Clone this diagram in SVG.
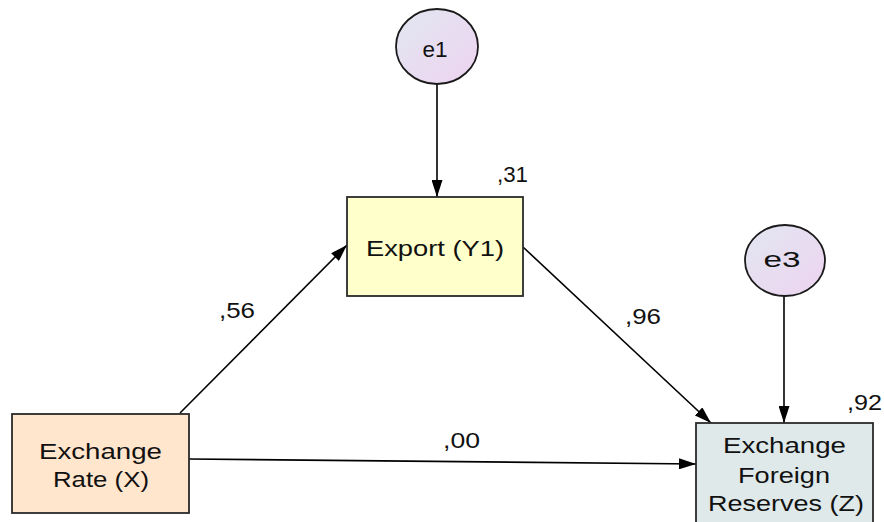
<svg xmlns="http://www.w3.org/2000/svg" width="884" height="522" viewBox="0 0 884 522">
<defs>
<linearGradient id="errGrad" x1="0" y1="0" x2="1" y2="1">
<stop offset="0" stop-color="#e1e7f1"/>
<stop offset="1" stop-color="#eed3f0"/>
</linearGradient>
<marker id="arrow" viewBox="0 0 17 11" refX="17" refY="5.5" markerWidth="17" markerHeight="11" markerUnits="userSpaceOnUse" orient="auto">
<path d="M0,0 L17,5.5 L0,11 Z" fill="#000"/>
</marker>
<style>
.box{stroke:#2a2a2a;stroke-width:1.8}
.err{fill:url(#errGrad);stroke:#1a1a1a;stroke-width:1.8}
.lbl{font-family:"Liberation Sans",Arial,sans-serif;font-size:22px;fill:#111}
.conn line{stroke:#000;stroke-width:1.6;marker-end:url(#arrow)}
</style>
</defs>
<rect width="884" height="522" fill="#fff"/>
<g id="connectors" class="conn">
<line x1="437" y1="84" x2="437" y2="197"/>
<line x1="784" y1="296" x2="784" y2="423"/>
<line x1="180" y1="413" x2="347" y2="245"/>
<line x1="523" y1="247" x2="711" y2="423"/>
<line x1="189" y1="459" x2="696" y2="464"/>
</g>
<g id="e1">
<ellipse class="err" cx="437" cy="46.5" rx="41" ry="37.5"/>
<text class="lbl" x="435" y="56.5" text-anchor="middle" font-size="21" textLength="25" lengthAdjust="spacingAndGlyphs">e1</text>
</g>
<g id="e3">
<ellipse class="err" cx="785" cy="260.5" rx="40" ry="35.5"/>
<text class="lbl" x="782" y="267" text-anchor="middle" font-size="24" textLength="37" lengthAdjust="spacingAndGlyphs">e3</text>
</g>
<g id="export">
<rect class="box" x="347" y="197" width="176" height="99" fill="#ffffcc"/>
<text class="lbl" x="435" y="256" text-anchor="middle" font-size="24" textLength="138" lengthAdjust="spacingAndGlyphs">Export (Y1)</text>
<text class="lbl" x="497" y="182" textLength="31" lengthAdjust="spacingAndGlyphs">,31</text>
</g>
<g id="exchange-rate">
<rect class="box" x="12" y="414" width="177" height="99" fill="#ffe6cc"/>
<text class="lbl" x="100.5" y="459" text-anchor="middle" font-size="24" textLength="123" lengthAdjust="spacingAndGlyphs">Exchange</text>
<text class="lbl" x="101" y="487" text-anchor="middle" font-size="24" textLength="96" lengthAdjust="spacingAndGlyphs">Rate (X)</text>
</g>
<g id="reserves">
<rect class="box" x="696" y="423" width="177" height="110" fill="#dfe9ea"/>
<text class="lbl" x="784.5" y="453" text-anchor="middle" font-size="23" textLength="123" lengthAdjust="spacingAndGlyphs">Exchange</text>
<text class="lbl" x="784" y="483" text-anchor="middle" font-size="23" textLength="92" lengthAdjust="spacingAndGlyphs">Foreign</text>
<text class="lbl" x="786" y="511" text-anchor="middle" font-size="23" textLength="156" lengthAdjust="spacingAndGlyphs">Reserves (Z)</text>
<text class="lbl" x="847" y="410" textLength="35" lengthAdjust="spacingAndGlyphs">,92</text>
</g>
<g id="path-labels">
<text class="lbl" x="219" y="318" textLength="36" lengthAdjust="spacingAndGlyphs">,56</text>
<text class="lbl" x="625" y="324" textLength="36" lengthAdjust="spacingAndGlyphs">,96</text>
<text class="lbl" x="443" y="448" textLength="37" lengthAdjust="spacingAndGlyphs">,00</text>
</g>
</svg>
